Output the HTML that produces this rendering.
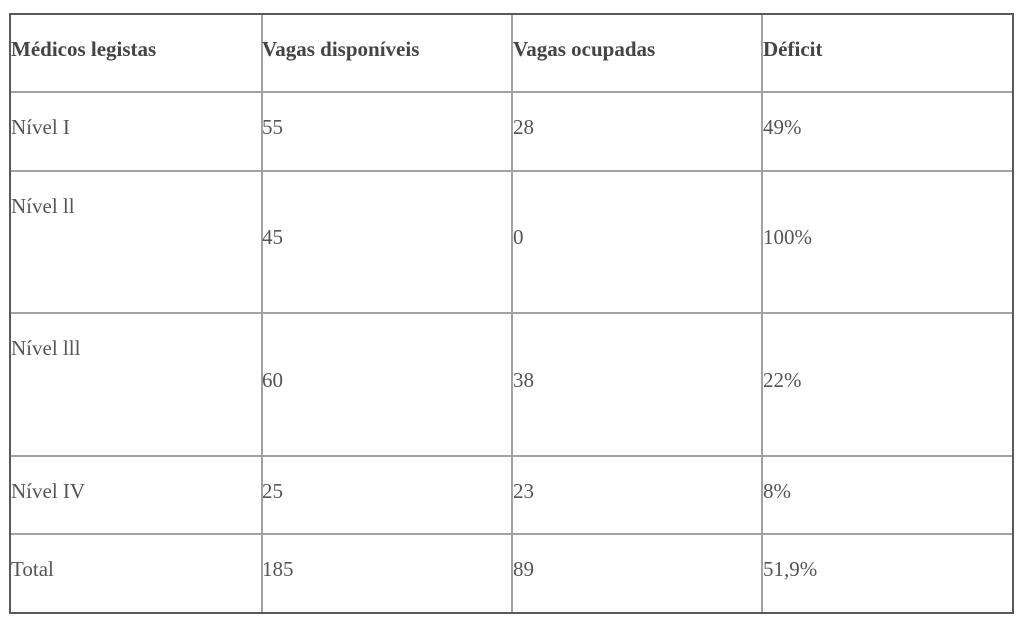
<!DOCTYPE html>
<html>
<head>
<meta charset="utf-8">
<style>
html,body{margin:0;padding:0;background:#fff;}
body{width:1024px;height:624px;position:relative;overflow:hidden;font-family:"Liberation Serif","Times New Roman",serif;}
.l{position:absolute;background:#a2a2a2;}
.o{position:absolute;background:#5a5a5a;}
.t{position:absolute;font-size:21px;line-height:1;color:#555;white-space:nowrap;}
.b{font-weight:bold;color:#444;}
</style>
</head>
<body>
<!-- inner vertical lines -->
<div class="l" style="left:261px;top:14px;width:2px;height:599px;"></div>
<div class="l" style="left:511px;top:14px;width:2px;height:599px;"></div>
<div class="l" style="left:761px;top:14px;width:2px;height:599px;"></div>
<!-- inner horizontal lines -->
<div class="l" style="left:10px;top:91px;width:1003px;height:2px;"></div>
<div class="l" style="left:10px;top:170px;width:1003px;height:2px;"></div>
<div class="l" style="left:10px;top:312px;width:1003px;height:2px;"></div>
<div class="l" style="left:10px;top:455px;width:1003px;height:2px;"></div>
<div class="l" style="left:10px;top:533px;width:1003px;height:2px;"></div>
<!-- outer border -->
<div class="o" style="left:9px;top:13px;width:1005px;height:2px;"></div>
<div class="o" style="left:9px;top:612px;width:1005px;height:2px;"></div>
<div class="o" style="left:9px;top:13px;width:2px;height:601px;"></div>
<div class="o" style="left:1012px;top:13px;width:2px;height:601px;"></div>

<!-- header -->
<div class="t b" style="left:11px;top:39px;">Médicos legistas</div>
<div class="t b" style="left:262px;top:39px;">Vagas disponíveis</div>
<div class="t b" style="left:513px;top:39px;">Vagas ocupadas</div>
<div class="t b" style="left:763px;top:39px;">Déficit</div>

<!-- row 1 -->
<div class="t" style="left:11px;top:117px;">Nível I</div>
<div class="t" style="left:262px;top:117px;">55</div>
<div class="t" style="left:513px;top:117px;">28</div>
<div class="t" style="left:763px;top:117px;">49%</div>

<!-- row 2 -->
<div class="t" style="left:11px;top:196px;">Nível ll</div>
<div class="t" style="left:262px;top:227px;">45</div>
<div class="t" style="left:513px;top:227px;">0</div>
<div class="t" style="left:763px;top:227px;">100%</div>

<!-- row 3 -->
<div class="t" style="left:11px;top:338px;">Nível lll</div>
<div class="t" style="left:262px;top:370px;">60</div>
<div class="t" style="left:513px;top:370px;">38</div>
<div class="t" style="left:763px;top:370px;">22%</div>

<!-- row 4 -->
<div class="t" style="left:11px;top:481px;">Nível IV</div>
<div class="t" style="left:262px;top:481px;">25</div>
<div class="t" style="left:513px;top:481px;">23</div>
<div class="t" style="left:763px;top:481px;">8%</div>

<!-- total -->
<div class="t" style="left:11px;top:559px;">Total</div>
<div class="t" style="left:262px;top:559px;">185</div>
<div class="t" style="left:513px;top:559px;">89</div>
<div class="t" style="left:763px;top:559px;">51,9%</div>
</body>
</html>
